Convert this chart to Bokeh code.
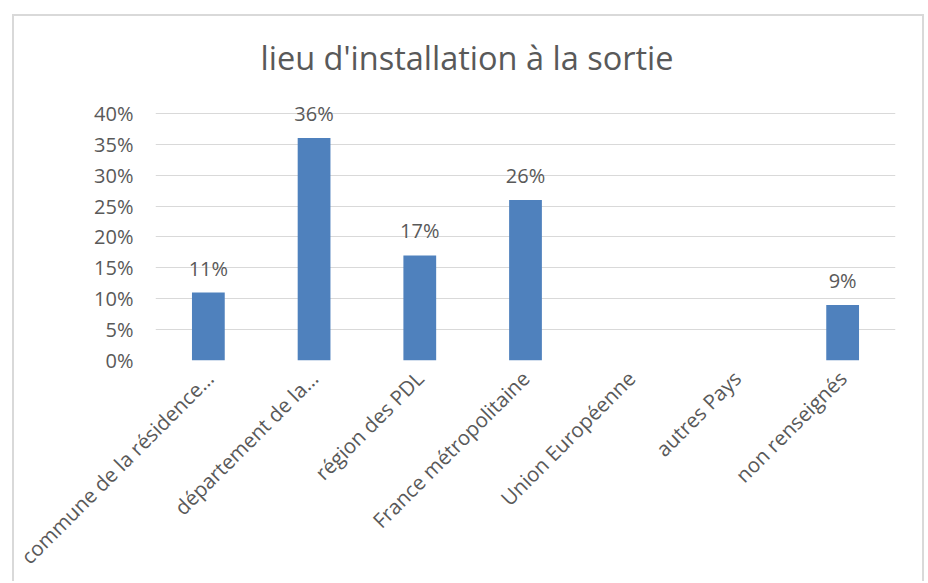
import math
from bokeh.plotting import figure
from bokeh.models import ColumnDataSource, LabelSet, FixedTicker, NumeralTickFormatter, Range1d
from bokeh.embed import file_html
from bokeh.resources import INLINE
from bokeh.core.properties import value

categories = ["commune de la résidence…", "département de la…", "région des PDL",
              "France métropolitaine", "Union Européenne", "autres Pays", "non renseignés"]
shares = [0.11, 0.36, 0.17, 0.26, 0.0, 0.0, 0.09]
share_labels = ["11%", "36%", "17%", "26%", "", "", "9%"]
y_ticks = [0.0, 0.05, 0.10, 0.15, 0.20, 0.25, 0.30, 0.35, 0.40]
title_text = "lieu d'installation à la sortie"

FONT = "Open Sans"
GRAY = "#595959"

src = ColumnDataSource(dict(cat=categories, val=shares, lab=share_labels))

p = figure(x_range=categories, y_range=Range1d(0, 0.45), width=912, height=567,
           output_backend="svg", toolbar_location=None, tools="",
           min_border_left=141, min_border_right=31, min_border_top=66, min_border_bottom=223)
p.styles = {"margin-left": "12px", "margin-top": "14px",
            "border-left": "2px solid #d9d9d9", "border-top": "2px solid #d9d9d9",
            "border-right": "2px solid #d9d9d9"}
p.outline_line_color = None
p.background_fill_color = "white"
p.border_fill_color = "white"

p.vbar(x="cat", top="val", width=0.31, source=src, fill_color="#4f81bd", line_color=None)

labels = LabelSet(x="cat", y="val", text="lab", source=src, y_offset=17,
                  text_align="center", text_baseline="alphabetic",
                  text_font=value(FONT), text_font_size="20px", text_color=GRAY)
p.add_layout(labels)

p.title.text = title_text
p.title.text_font = FONT
p.title.text_font_size = "32.5px"
p.title.text_font_style = "normal"
p.title.text_color = GRAY
p.title.align = "left"
p.title.offset = 105
p.title.standoff = 6

p.yaxis.ticker = FixedTicker(ticks=y_ticks)
p.yaxis.formatter = NumeralTickFormatter(format="0%")
p.yaxis.axis_line_color = None
p.yaxis.major_tick_line_color = None
p.yaxis.minor_tick_line_color = None
p.yaxis.major_tick_out = 0
p.yaxis.major_label_standoff = 22
p.yaxis.major_label_text_font = FONT
p.yaxis.major_label_text_font_size = "20px"
p.yaxis.major_label_text_color = GRAY

p.xaxis.axis_line_color = None
p.xaxis.major_tick_line_color = None
p.xaxis.major_tick_out = 0
p.xaxis.major_label_orientation = math.pi / 4
p.xaxis.major_label_standoff = 14
p.xaxis.major_label_text_font = FONT
p.xaxis.major_label_text_font_size = "20.5px"
p.xaxis.major_label_text_color = GRAY

p.xgrid.grid_line_color = None
p.ygrid.grid_line_color = "#d9d9d9"
p.ygrid.grid_line_width = 1

open("out.html", "w").write(file_html(p, INLINE))
